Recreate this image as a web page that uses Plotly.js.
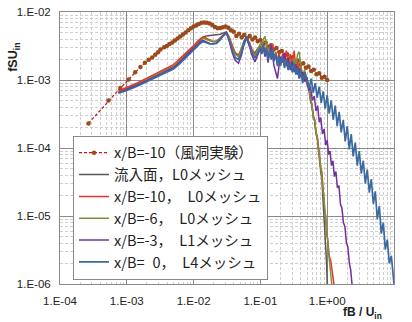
<!DOCTYPE html>
<html><head><meta charset="utf-8">
<script src="https://cdn.plot.ly/plotly-3.0.1.min.js"></script>
<style>html,body{margin:0;padding:0;background:#fff}#chart{width:412px;height:322px}</style>
</head><body><div id="chart"></div>
<script>
// ---- series names ----
const seriesNames = [
  'x/B=-10（風洞実験）',
  '流入面，L0メッシュ',
  'x/B=-10，\u2002L0メッシュ',
  'x/B=-6，\u2002L0メッシュ',
  'x/B=-3，\u2002L1メッシュ',
  'x/B=\u20070，\u2002L4メッシュ'
];

// ---- tick labels ----
const xTickVals = [1e-4, 1e-3, 1e-2, 1e-1, 1, 10];
const xTickText = ['1.E-04', '1.E-03', '1.E-02', '1.E-01', '1.E+00', '1.E+01'];
const yTickVals = [1e-6, 1e-5, 1e-4, 1e-3, 1e-2];
const yTickText = ['1.E-06', '1.E-05', '1.E-04', '1.E-03', '1.E-02'];

// ---- wind tunnel (x/B=-10) ----
const windX = [2.67e-4, 5.33e-4, 8.0e-4, 1.067e-3, 1.333e-3, 1.6e-3, 1.867e-3, 2.133e-3, 2.4e-3, 2.667e-3, 2.933e-3, 3.2e-3,
  3.63e-3, 3.98e-3, 4.37e-3, 4.79e-3, 5.25e-3, 5.75e-3, 6.31e-3, 6.92e-3, 7.59e-3, 8.32e-3, 9.12e-3,
  0.01, 0.011, 0.012, 0.0132, 0.0145, 0.0158, 0.0174, 0.0191, 0.0209, 0.0229, 0.0251, 0.0275, 0.0302, 0.0331, 0.0363, 0.0398,
  0.0437, 0.0479, 0.0525, 0.0575, 0.0631, 0.0692, 0.0759, 0.0832, 0.0912,
  0.1, 0.11, 0.12, 0.132, 0.145, 0.158, 0.174, 0.191, 0.209, 0.229, 0.251, 0.275, 0.302, 0.331, 0.363, 0.398,
  0.437, 0.479, 0.525, 0.575, 0.631, 0.692, 0.759, 0.832, 0.912, 1.0];
const windY = [2.3e-4, 5.0e-4, 7.6e-4, 1.02e-3, 1.3e-3, 1.55e-3, 1.8e-3, 1.98e-3, 2.15e-3, 2.35e-3, 2.55e-3, 2.8e-3,
  3.02e-3, 3.16e-3, 3.39e-3, 3.55e-3, 3.80e-3, 4.07e-3, 4.37e-3, 4.68e-3, 5.01e-3, 5.37e-3, 5.75e-3,
  6.10e-3, 6.38e-3, 6.68e-3, 6.92e-3, 7.00e-3, 6.92e-3, 6.76e-3, 6.46e-3, 6.03e-3, 5.75e-3, 5.82e-3, 5.96e-3, 6.10e-3, 5.89e-3, 5.37e-3, 5.13e-3,
  4.42e-3, 4.79e-3, 4.27e-3, 4.62e-3, 4.12e-3, 4.42e-3, 3.94e-3, 4.22e-3, 3.72e-3,
  3.89e-3, 3.39e-3, 3.55e-3, 3.09e-3, 3.24e-3, 2.82e-3, 2.95e-3, 2.57e-3, 2.66e-3, 2.29e-3, 2.40e-3, 2.09e-3, 2.16e-3, 1.86e-3, 1.93e-3, 1.68e-3,
  1.76e-3, 1.51e-3, 1.58e-3, 1.36e-3, 1.41e-3, 1.22e-3, 1.26e-3, 1.08e-3, 1.12e-3, 1.0e-3];

// ---- CFD shared frequency grids ----
const cfdLowX = [7.5e-4, 1e-3, 1.4e-3, 2e-3, 3e-3, 4e-3, 5e-3, 6e-3, 7e-3, 8.5e-3, 0.01, 0.0115, 0.0128, 0.014, 0.0155, 0.0175, 0.0195,
  0.022, 0.025, 0.028, 0.031, 0.034, 0.038, 0.042, 0.047, 0.052, 0.057, 0.062, 0.068, 0.075, 0.083, 0.091, 0.1];
const cfdMidX = [0.105, 0.11, 0.117, 0.124, 0.13, 0.138, 0.145, 0.153, 0.16, 0.17, 0.18, 0.19, 0.2, 0.215, 0.23, 0.245, 0.26, 0.28,
  0.3, 0.32, 0.34, 0.36, 0.38, 0.4, 0.43, 0.46, 0.5];

// ---- 流入面 L0 ----
const inletLowY = [6.6e-4, 7.4e-4, 8.5e-4, 1.0e-3, 1.25e-3, 1.42e-3, 1.58e-3, 1.85e-3, 2.15e-3, 2.6e-3, 3.0e-3, 3.5e-3, 3.95e-3, 4.3e-3, 4.45e-3, 4.5e-3, 4.55e-3,
  4.6e-3, 4.7e-3, 4.9e-3, 5.1e-3, 4.2e-3, 3.0e-3, 2.5e-3, 2.3e-3, 2.9e-3, 3.8e-3, 4.2e-3, 3.4e-3, 2.7e-3, 2.5e-3, 2.9e-3, 3.2e-3];
const inletMidY = [2.6e-3, 3.4e-3, 2.3e-3, 3.0e-3, 2.1e-3, 2.8e-3, 2.0e-3, 2.6e-3, 1.9e-3, 2.5e-3, 1.7e-3, 2.2e-3, 1.6e-3, 2.3e-3, 1.7e-3, 2.1e-3, 1.5e-3, 1.9e-3,
  1.4e-3, 1.8e-3, 1.3e-3, 1.6e-3, 1.15e-3, 1.4e-3, 1.0e-3, 1.2e-3, 8.5e-4];
const inletTailX = [0.53, 0.56, 0.59, 0.62, 0.65, 0.68, 0.71, 0.74, 0.77, 0.8, 0.83, 0.86, 0.89, 0.92, 0.94, 0.96, 0.98, 1.0];
const inletTailY = [7.5e-4, 5e-4, 4.3e-4, 2.8e-4, 2.5e-4, 1.6e-4, 1.4e-4, 9e-5, 7.5e-5, 4.5e-5, 3.6e-5, 2e-5, 1.5e-5, 8e-6, 5.5e-6, 3e-6, 2e-6, 1.0e-6];

// ---- x/B=-10 L0 ----
const m10LowY = [6.9e-4, 7.9e-4, 9.0e-4, 1.06e-3, 1.32e-3, 1.5e-3, 1.68e-3, 1.98e-3, 2.3e-3, 2.75e-3, 3.2e-3, 3.7e-3, 4.1e-3, 4.3e-3, 4.1e-3, 3.85e-3, 3.7e-3,
  3.75e-3, 4.2e-3, 4.7e-3, 5.0e-3, 4.3e-3, 3.1e-3, 2.5e-3, 2.3e-3, 2.7e-3, 3.5e-3, 4.1e-3, 3.6e-3, 2.8e-3, 2.4e-3, 2.7e-3, 3.3e-3];
const m10MidY = [2.8e-3, 3.2e-3, 2.5e-3, 3.3e-3, 2.2e-3, 2.9e-3, 2.4e-3, 3.4e-3, 2.0e-3, 2.6e-3, 1.9e-3, 2.5e-3, 1.8e-3, 2.4e-3, 1.9e-3, 2.7e-3, 1.7e-3, 2.4e-3,
  1.6e-3, 2.7e-3, 1.5e-3, 1.9e-3, 1.3e-3, 1.6e-3, 1.1e-3, 1.3e-3, 9e-4];
const m10TailX = [0.53, 0.56, 0.59, 0.62, 0.65, 0.68, 0.71, 0.74, 0.77, 0.8, 0.83, 0.86, 0.89, 0.92, 0.95, 0.98, 1.02, 1.07, 1.13, 1.19, 1.26];
const m10TailY = [8e-4, 5.5e-4, 4.6e-4, 3e-4, 2.6e-4, 1.7e-4, 1.5e-4, 1.0e-4, 8.5e-5, 5.2e-5, 4.5e-5, 2.6e-5, 2.2e-5, 1.2e-5, 1e-5, 5.5e-6, 4.5e-6, 2.6e-6, 2.2e-6, 1.4e-6, 1.0e-6];

// ---- x/B=-6 L0 ----
const m6LowY = [6.5e-4, 7.3e-4, 8.4e-4, 1.0e-3, 1.24e-3, 1.4e-3, 1.56e-3, 1.82e-3, 2.1e-3, 2.55e-3, 2.95e-3, 3.45e-3, 3.85e-3, 4.1e-3, 3.95e-3, 3.75e-3, 3.65e-3,
  3.7e-3, 4.1e-3, 4.6e-3, 4.9e-3, 4.1e-3, 2.9e-3, 2.4e-3, 2.2e-3, 2.8e-3, 3.6e-3, 4.0e-3, 3.3e-3, 2.6e-3, 2.3e-3, 2.8e-3, 3.4e-3];
const m6MidY = [3.0e-3, 3.9e-3, 4.4e-3, 3.0e-3, 2.4e-3, 3.1e-3, 2.2e-3, 2.7e-3, 2.0e-3, 2.5e-3, 1.8e-3, 2.3e-3, 1.7e-3, 2.2e-3, 1.6e-3, 2.1e-3, 1.7e-3, 2.0e-3,
  1.5e-3, 2.1e-3, 1.6e-3, 2.4e-3, 2.6e-3, 1.7e-3, 1.2e-3, 1.4e-3, 9.5e-4];
const m6TailX = [0.53, 0.56, 0.59, 0.62, 0.65, 0.68, 0.71, 0.74, 0.77, 0.8, 0.83, 0.86, 0.89, 0.92, 0.95, 0.98, 1.02, 1.06, 1.1, 1.14, 1.17];
const m6TailY = [7.8e-4, 5.3e-4, 4.4e-4, 2.9e-4, 2.5e-4, 1.65e-4, 1.45e-4, 9.5e-5, 8e-5, 5e-5, 4.2e-5, 2.5e-5, 2e-5, 1.2e-5, 9e-6, 5.5e-6, 4.2e-6, 2.6e-6, 2e-6, 1.3e-6, 1.0e-6];

// ---- x/B=-3 L1 ----
const m3LowY = [6.5e-4, 7.2e-4, 8.3e-4, 9.8e-4, 1.2e-3, 1.36e-3, 1.5e-3, 1.75e-3, 2.05e-3, 2.5e-3, 2.9e-3, 3.35e-3, 3.7e-3, 3.8e-3, 3.6e-3, 3.45e-3, 3.4e-3,
  3.5e-3, 4.0e-3, 4.6e-3, 5.0e-3, 3.8e-3, 2.5e-3, 1.95e-3, 1.76e-3, 2.3e-3, 3.4e-3, 4.2e-3, 3.2e-3, 2.3e-3, 1.85e-3, 2.3e-3, 2.9e-3];
const m3MidY = [2.4e-3, 3.1e-3, 2.2e-3, 2.7e-3, 1.8e-3, 2.6e-3, 3.3e-3, 2.2e-3, 1.6e-3, 1.3e-3, 1.05e-3, 1.6e-3, 2.2e-3, 1.8e-3, 2.5e-3, 1.6e-3, 2.1e-3, 1.4e-3,
  1.9e-3, 1.3e-3, 1.7e-3, 1.2e-3, 1.5e-3, 1.1e-3, 1.3e-3, 9.5e-4, 1.1e-3];
const m3TailX = [0.53, 0.56, 0.6, 0.64, 0.68, 0.72, 0.76, 0.8, 0.85, 0.9, 0.95, 1.0, 1.05, 1.1, 1.16, 1.22, 1.28, 1.35, 1.42, 1.5,
  1.58, 1.66, 1.75, 1.84, 1.94, 2.04, 2.15, 2.25, 2.35];
const m3TailY = [7e-4, 8e-4, 5e-4, 5.8e-4, 3.5e-4, 4.2e-4, 2.4e-4, 2.8e-4, 1.6e-4, 1.9e-4, 1.1e-4, 1.3e-4, 8e-5, 9e-5, 5.5e-5, 6.5e-5, 3.8e-5, 4.5e-5, 2.6e-5, 2.8e-5,
  1.5e-5, 1.3e-5, 8e-6, 7e-6, 4e-6, 3.5e-6, 2e-6, 1.6e-6, 1.0e-6];

// ---- x/B=0 L4 ----
const p0LowY = [6.4e-4, 7.0e-4, 8.0e-4, 9.4e-4, 1.15e-3, 1.3e-3, 1.45e-3, 1.68e-3, 1.95e-3, 2.35e-3, 2.75e-3, 3.2e-3, 3.5e-3, 3.65e-3, 3.5e-3, 3.4e-3, 3.4e-3,
  3.45e-3, 3.9e-3, 4.5e-3, 4.9e-3, 3.9e-3, 2.7e-3, 2.15e-3, 2.0e-3, 2.5e-3, 3.5e-3, 4.3e-3, 3.4e-3, 2.5e-3, 2.1e-3, 2.5e-3, 3.0e-3];
const p0MidY = [2.5e-3, 3.3e-3, 2.4e-3, 2.9e-3, 2.0e-3, 2.7e-3, 2.1e-3, 2.9e-3, 1.9e-3, 2.4e-3, 1.6e-3, 2.3e-3, 1.7e-3, 2.2e-3, 1.5e-3, 2.0e-3, 1.4e-3, 1.8e-3,
  1.3e-3, 1.7e-3, 1.2e-3, 1.5e-3, 1.05e-3, 1.4e-3, 9e-4, 1.3e-3, 1.0e-3];
const p0TailX = [0.537, 0.575, 0.617, 0.661, 0.708, 0.759, 0.813, 0.871, 0.933, 1.0, 1.07, 1.15, 1.23, 1.32, 1.41, 1.51, 1.62, 1.74, 1.86,
  2.0, 2.14, 2.29, 2.45, 2.63, 2.82, 3.02, 3.24, 3.47, 3.72, 3.98, 4.27, 4.57, 4.9, 5.25, 5.62, 6.03, 6.46, 6.92, 7.41,
  7.94, 8.51, 9.12, 9.77, 10];
const p0TailY = [7.5e-4, 1.05e-3, 6.5e-4, 9e-4, 5.5e-4, 8e-4, 4.6e-4, 6.8e-4, 3.8e-4, 6e-4, 3.2e-4, 5e-4, 2.6e-4, 4.2e-4, 2.1e-4, 3.4e-4, 1.7e-4, 2.6e-4, 1.25e-4,
  2.1e-4, 9.5e-5, 1.6e-4, 7.5e-5, 1.2e-4, 5.5e-5, 9e-5, 4.2e-5, 6.5e-5, 3.0e-5, 4.8e-5, 2.2e-5, 3.5e-5, 1.5e-5, 2.3e-5, 9e-6, 1.4e-5, 5.5e-6, 8e-6, 3.2e-6,
  4.5e-6, 2e-6, 2.6e-6, 1.1e-6, 1.0e-6];

// ---- build traces ----
const cfdX = tail => cfdLowX.concat(cfdMidX, tail);
const cfdY = (low, mid, tail) => low.concat(mid, tail);

const traces = [
  { x: windX, y: windY, name: seriesNames[0], mode: 'lines+markers',
    line: { color: '#c0141b', width: 1.2, dash: '3px,2px' },
    marker: { color: '#9c4a1c', size: 4.5, symbol: 'circle' } },
  { x: cfdX(inletTailX), y: cfdY(inletLowY, inletMidY, inletTailY), name: seriesNames[1], mode: 'lines',
    line: { color: '#595959', width: 1.5 } },
  { x: cfdX(m10TailX), y: cfdY(m10LowY, m10MidY, m10TailY), name: seriesNames[2], mode: 'lines',
    line: { color: '#f0302a', width: 1.5 } },
  { x: cfdX(m6TailX), y: cfdY(m6LowY, m6MidY, m6TailY), name: seriesNames[3], mode: 'lines',
    line: { color: '#78953a', width: 1.5 } },
  { x: cfdX(m3TailX), y: cfdY(m3LowY, m3MidY, m3TailY), name: seriesNames[4], mode: 'lines',
    line: { color: '#7030a0', width: 1.5 } },
  { x: cfdX(p0TailX), y: cfdY(p0LowY, p0MidY, p0TailY), name: seriesNames[5], mode: 'lines',
    line: { color: '#3b6aa0', width: 1.7 } }
];
traces.forEach((t, i) => { t.legendgroup = 'g' + i; });

// minor gridline positions (2..9 in each decade)
function minorVals(lo, hi) {
  const v = [];
  for (let e = lo; e < hi; e++) for (let d = 2; d <= 9; d++) v.push(d * Math.pow(10, e));
  return v;
}

const axisCommon = {
  type: 'log', showline: true, mirror: true, linecolor: '#8a8a8a', linewidth: 1,
  showgrid: true, gridcolor: '#8a8a8a', gridwidth: 1, zeroline: false,
  ticks: '', tickmode: 'array',
  tickfont: { family: 'Liberation Sans, Arial, sans-serif', size: 11.5, color: '#222' }
};

const layout = {
  width: 412, height: 322,
  margin: { l: 60, r: 18, t: 12, b: 38 },
  paper_bgcolor: '#ffffff', plot_bgcolor: '#ffffff',
  showlegend: true,
  xaxis: Object.assign({}, axisCommon, {
    range: [-4, 1], tickvals: xTickVals, ticktext: xTickText, ticklabelstandoff: 6,
    minor: { tickmode: 'array', tickvals: minorVals(-4, 1), showgrid: true, gridcolor: '#cfcfcf', griddash: '3px,2px', gridwidth: 1, ticks: '' }
  }),
  yaxis: Object.assign({}, axisCommon, {
    range: [-6, -2], tickvals: yTickVals, ticktext: yTickText, ticklabelstandoff: 6,
    minor: { tickmode: 'array', tickvals: minorVals(-6, -2), showgrid: true, gridcolor: '#cfcfcf', griddash: '3px,2px', gridwidth: 1, ticks: '' }
  }),
  legend: {
    x: 0.039, y: 0.545, xanchor: 'left', yanchor: 'top',
    bgcolor: '#ffffff', bordercolor: '#8a8a8a', borderwidth: 1,
    font: { family: 'Noto Sans CJK JP, sans-serif', size: 14.5, color: '#222' },
    traceorder: 'grouped', tracegroupgap: 0, itemwidth: 30
  },
  annotations: [
    { text: '<b>fSU<sub>in</sub></b>', xref: 'paper', yref: 'paper', x: -0.138, y: 0.835,
      textangle: -90, showarrow: false, xanchor: 'center', yanchor: 'middle',
      font: { family: 'Liberation Sans, Arial, sans-serif', size: 12.5, color: '#222' } },
    { text: '<b>fB / U<sub>in</sub></b>', xref: 'paper', yref: 'paper', x: 0.907, y: -0.105,
      showarrow: false, xanchor: 'center', yanchor: 'middle',
      font: { family: 'Liberation Sans, Arial, sans-serif', size: 12, color: '#222' } }
  ]
};

Plotly.newPlot('chart', traces, layout, { staticPlot: true, displayModeBar: false });
</script></body></html>
